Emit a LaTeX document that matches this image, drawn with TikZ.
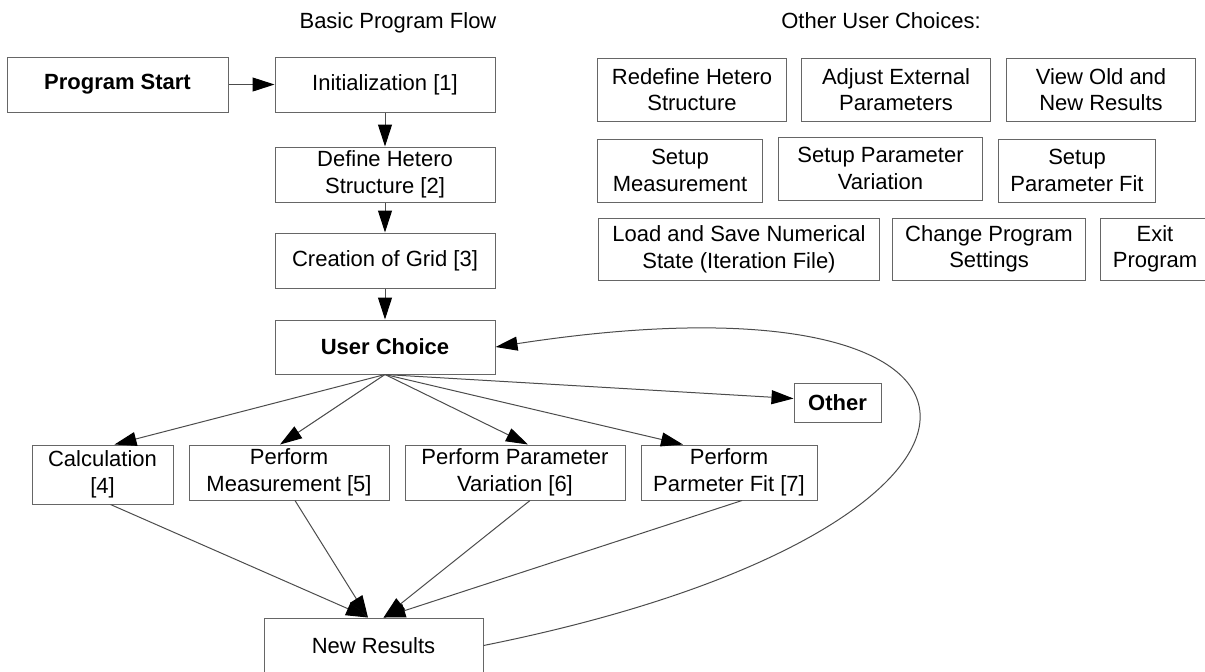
\documentclass[tikz,border=0pt]{standalone}
\usepackage{fontspec}
\setmainfont{Liberation Sans}
\usetikzlibrary{arrows.meta}
\tikzset{
  box/.style={draw=black!60, line width=0.5pt, align=center, inner sep=0pt,
    font=\fontsize{11}{13.3}\selectfont},
  boldbox/.style={box, font=\fontsize{11}{13.3}\selectfont\bfseries},
  title/.style={font=\fontsize{11}{13.3}\selectfont},
  flow/.style={draw=black!70, line width=0.5pt,
    -{Triangle[length=11pt,width=7pt,color=black]}}
}
\begin{document}
\begin{tikzpicture}[x=0.5pt,y=-0.5pt]
\useasboundingbox (0,0) rectangle (1205,671);
\node[title] (tflow) at (398,23) {Basic Program Flow};
\node[title] (tother) at (881,21) {Other User Choices:};
% main flow
\node[boldbox, minimum width=110.5pt, minimum height=27.5pt] (ps) at (117.5,84.5) {Program Start};
\node[box, minimum width=110pt, minimum height=27.5pt] (init) at (385,84.5) {Initialization [1]};
\node[box, minimum width=110pt, minimum height=27.5pt] (dhs) at (385,174.5) {Define Hetero\\Structure [2]};
\node[box, minimum width=110pt, minimum height=27.5pt] (grid) at (385,260.5) {Creation of Grid [3]};
\node[boldbox, minimum width=110pt, minimum height=27pt] (uc) at (385,347) {User Choice};
\node[boldbox, minimum width=43.5pt, minimum height=19.5pt] (other) at (837.5,402.5) {Other};
\node[box, minimum width=70.5pt, minimum height=29.5pt] (calc) at (102.5,474.5) {Calculation\\{[4]}};
\node[box, minimum width=100pt, minimum height=27.5pt] (meas) at (289,472.5) {Perform\\Measurement [5]};
\node[box, minimum width=110pt, minimum height=27.5pt] (var) at (515,472.5) {Perform Parameter\\Variation [6]};
\node[box, minimum width=88pt, minimum height=27.5pt] (fit) at (729,472.5) {Perform\\Parmeter Fit [7]};
\node[box, minimum width=109.5pt, minimum height=27.5pt] (nr) at (373.5,645.5) {New Results};
% other user choices
\node[box, minimum width=94.5pt, minimum height=31.5pt] (rhs) at (692,89.5) {Redefine Hetero\\Structure};
\node[box, minimum width=94.5pt, minimum height=31.5pt] (aep) at (896,89.5) {Adjust External\\Parameters};
\node[box, minimum width=94.5pt, minimum height=31.5pt] (vor) at (1101,89.5) {View Old and\\New Results};
\node[box, minimum width=82.5pt, minimum height=31.5pt] (sm) at (680,170.5) {Setup\\Measurement};
\node[box, minimum width=102pt, minimum height=31.5pt] (spv) at (880.5,168.5) {Setup Parameter\\Variation};
\node[box, minimum width=78.5pt, minimum height=31.5pt] (spf) at (1077,170.5) {Setup\\Parameter Fit};
\node[box, minimum width=140.5pt, minimum height=31pt] (ls) at (739,249) {Load and Save Numerical\\State (Iteration File)};
\node[box, minimum width=96.5pt, minimum height=31pt] (cps) at (989,249) {Change Program\\Settings};
\node[box, minimum width=54.5pt, minimum height=31pt] (ep) at (1155,249) {Exit\\Program};
% connectors
\draw[flow] (ps) -- (init);
\draw[flow] (init) -- (dhs);
\draw[flow] (dhs) -- (grid);
\draw[flow] (grid) -- (uc);
\draw[flow] (uc.south) -- ([yshift=2pt]other.west);
\foreach \n/\s in {calc/6pt, meas/-4.5pt, var/6.5pt, fit/-23pt}
{
\draw[flow] (uc.south) -- ([xshift=\s]\n.north);
}
\foreach \n/\s/\t in {calc/4pt/-2.75pt, meas/3pt/-2.75pt, var/7.5pt/5pt, fit/6.5pt/5pt}
{
\draw[flow] ([xshift=\s]\n.south) -- ([xshift=\t]nr.north);
}
\draw[flow] (nr.east) .. controls (1060,530) and (1060,260) .. (uc.east);
\end{tikzpicture}
\end{document}
